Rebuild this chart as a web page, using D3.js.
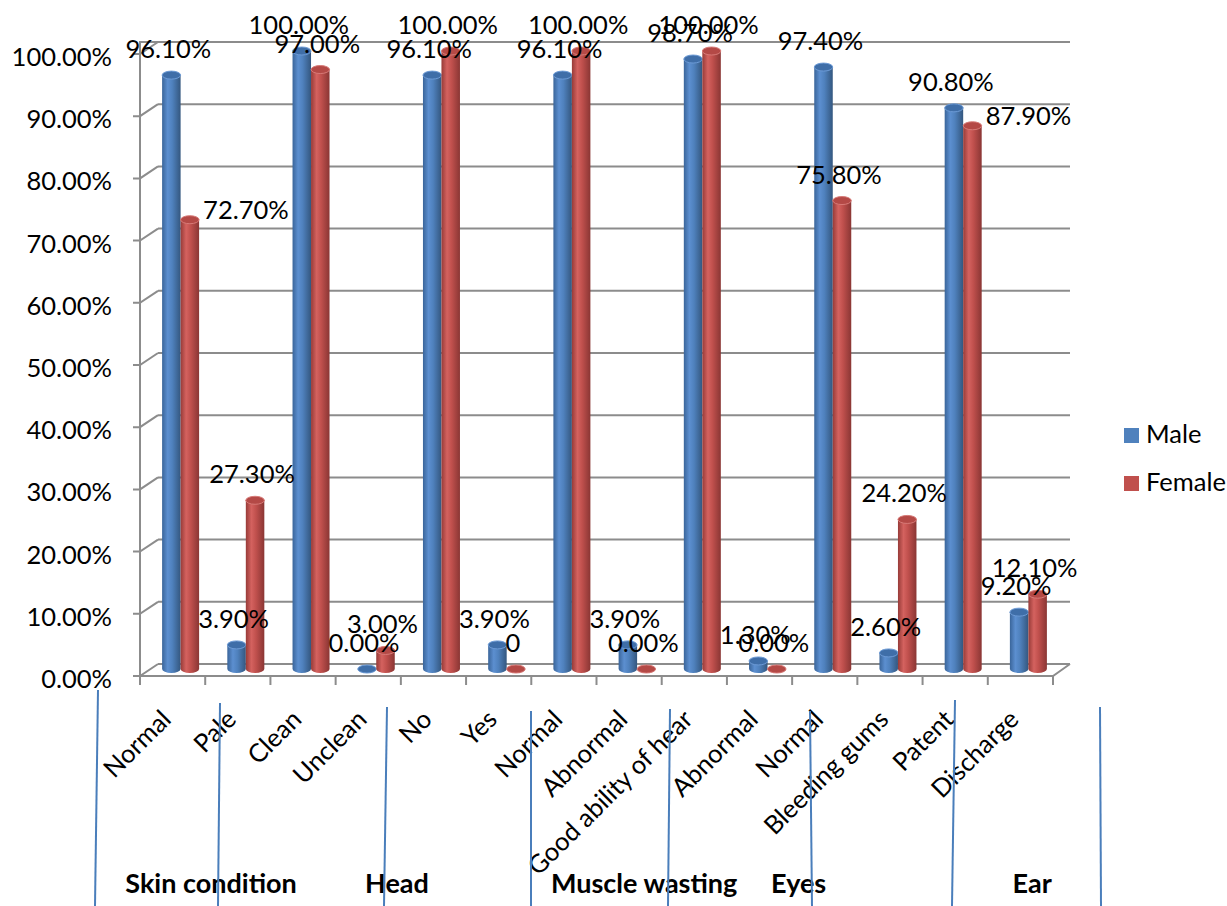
<!DOCTYPE html>
<html>
<head>
<meta charset="utf-8">
<script src="https://cdn.jsdelivr.net/npm/d3@7"></script>
<style>
  body { margin: 0; background: #fff; }
  text { font-family: Lato, "Open Sans", sans-serif; fill: #000; }
</style>
</head>
<body>
<div id="chart"></div>
<script>
// categories and values
var categories = ["Normal", "Pale", "Clean", "Unclean", "No", "Yes", "Normal", "Abnormal",
    "Good ability of hear", "Abnormal", "Normal", "Bleeding gums", "Patent", "Discharge"];
var male = [96.1, 3.9, 100, 0, 96.1, 3.9, 96.1, 3.9, 98.7, 1.3, 97.4, 2.6, 90.8, 9.2];
var female = [72.7, 27.3, 97.0, 3.0, 100, 0, 100, 0, 100, 0, 75.8, 24.2, 87.9, 12.1];
var maleLabels = ["96.10%", "3.90%", "100.00%", "0.00%", "96.10%", "3.90%", "96.10%", "3.90%",
    "98.70%", "1.30%", "97.40%", "2.60%", "90.80%", "9.20%"];
var femaleLabels = ["72.70%", "27.30%", "97.00%", "3.00%", "100.00%", "0", "100.00%", "0.00%",
    "100.00%", "0.00%", "75.80%", "24.20%", "87.90%", "12.10%"];
var seriesNames = ["Male", "Female"];
var groupNames = ["Skin condition", "Head", "Muscle wasting", "Eyes", "Ear"];
var yTicks = [0, 0.1, 0.2, 0.3, 0.4, 0.5, 0.6, 0.7, 0.8, 0.9, 1.0];

var width = 1227, height = 906;
var fontSize = "25.5px";

var svg = d3.select("#chart")
    .append("svg")
    .attr("width", width)
    .attr("height", height);

var defs = svg.append("defs");
function cylGradient(id, stops) {
    var lg = defs.append("linearGradient").attr("id", id)
        .attr("x1", "0%").attr("x2", "100%").attr("y1", "0%").attr("y2", "0%");
    stops.forEach(function (s) {
        lg.append("stop").attr("offset", s[0]).attr("stop-color", s[1]);
    });
}
cylGradient("gMale", [["0%", "#3a659a"], ["30%", "#5c8fd0"], ["55%", "#4f81bd"], ["100%", "#34577f"]]);
cylGradient("gFemale", [["0%", "#973b38"], ["30%", "#d4625f"], ["55%", "#c0504d"], ["100%", "#8a3634"]]);

var idx = d3.range(categories.length);

// front plane (axis), bar plane (middle depth), back wall
var xFront = d3.scaleBand().domain(idx).range([140, 1053]);
var xBar = d3.scaleBand().domain(idx).range([148, 1061]);
var yFront = d3.scaleLinear().domain([0, 1]).range([676, 54]);
var yBack = d3.scaleLinear().domain([0, 1]).range([664, 42]);
var yBar = d3.scaleLinear().domain([0, 100]).range([669, 51]);

var gridColor = "#8c8c8c";

// walls and gridlines
var grid = svg.append("g").attr("stroke", gridColor).attr("stroke-width", 2).attr("fill", "none");
grid.selectAll("line.back")
    .data(yTicks)
    .enter()
    .append("line")
    .attr("x1", function (d) { return d === 1 ? 140 : 158; })
    .attr("x2", 1070)
    .attr("y1", function (d) { return yBack(d); })
    .attr("y2", function (d) { return yBack(d); });
grid.selectAll("path.side")
    .data(yTicks)
    .enter()
    .append("path")
    .attr("d", function (d) {
        return "M133," + yFront(d) + "L140," + yFront(d) + "L158," + yBack(d);
    });
grid.append("line")
    .attr("x1", 140).attr("x2", 140)
    .attr("y1", yBack(1) - 1).attr("y2", yFront(0));
// floor
grid.append("path")
    .attr("d", "M133," + yFront(0) + "L1053," + yFront(0) + "L1070," + yBack(0));
grid.selectAll("line.tick")
    .data(d3.range(categories.length + 1))
    .enter()
    .append("line")
    .attr("x1", function (d) { return 140 + d * xFront.step(); })
    .attr("x2", function (d) { return 140 + d * xFront.step(); })
    .attr("y1", yFront(0))
    .attr("y2", yFront(0) + 9);

// y axis labels
svg.append("g")
    .selectAll("text")
    .data(yTicks)
    .enter()
    .append("text")
    .attr("x", 112)
    .attr("y", function (d) { return yFront(d) + 3; })
    .attr("dy", "0.35em")
    .attr("text-anchor", "end")
    .style("font-size", fontSize)
    .text(function (d) { return d3.format(".2%")(d); });

// bars
var bw = 18.5, ry = 4;
var rows = [];
idx.forEach(function (i) {
    rows.push({ i: i, s: 0, v: male[i], label: maleLabels[i] });
    rows.push({ i: i, s: 1, v: female[i], label: femaleLabels[i] });
});
function barCx(d) {
    return xBar(d.i) + xBar.bandwidth() / 2 + (d.s === 0 ? -bw / 2 : bw / 2);
}

var bars = svg.append("g")
    .selectAll("g")
    .data(rows)
    .enter()
    .append("g");

bars.append("path")
    .attr("d", function (d) {
        var cx = barCx(d), rx = bw / 2, yt = yBar(d.v), yb = yBar(0);
        return "M" + (cx - rx) + "," + yt + "L" + (cx - rx) + "," + yb +
            "A" + rx + "," + ry + " 0 0 0 " + (cx + rx) + "," + yb +
            "L" + (cx + rx) + "," + yt + "Z";
    })
    .attr("fill", function (d) { return d.s === 0 ? "url(#gMale)" : "url(#gFemale)"; });

bars.append("ellipse")
    .attr("cx", barCx)
    .attr("cy", function (d) { return yBar(d.v); })
    .attr("rx", bw / 2)
    .attr("ry", ry)
    .attr("fill", function (d) { return d.s === 0 ? "#3f6ea8" : "#b44946"; })
    .attr("stroke", function (d) { return d.s === 0 ? "#6d9bd6" : "#d77a77"; })
    .attr("stroke-width", 1);

// data labels, drawn above all bars (two female labels sit to the right of their bars)
var sideLabel = { "1-0": true, "1-12": true };
svg.append("g")
    .selectAll("text")
    .data(rows)
    .enter()
    .append("text")
    .style("font-size", fontSize)
    .attr("text-anchor", function (d) { return sideLabel[d.s + "-" + d.i] ? "start" : "middle"; })
    .attr("x", function (d) {
        return sideLabel[d.s + "-" + d.i] ? barCx(d) + bw / 2 + 4 : barCx(d) - 3;
    })
    .attr("y", function (d) {
        return sideLabel[d.s + "-" + d.i] ? yBar(d.v) - 1 : yBar(d.v) - 17;
    })
    .text(function (d) { return d.label; });

// category labels
svg.append("g")
    .selectAll("text")
    .data(idx)
    .enter()
    .append("text")
    .attr("text-anchor", "end")
    .style("font-size", fontSize)
    .attr("transform", function (d) {
        return "translate(" + (xFront(d) + xFront.bandwidth() / 2) + ",721) rotate(-45)";
    })
    .text(function (d) { return categories[d]; });

// group captions and hand-drawn separators under the axis
var groupAt = [1.09, 3.94, 7.73, 10.1, 13.68];
svg.append("g")
    .selectAll("text")
    .data(groupNames)
    .enter()
    .append("text")
    .attr("x", function (d, i) { return 140 + groupAt[i] * xFront.step(); })
    .attr("y", 893)
    .attr("text-anchor", "middle")
    .style("font-size", "27px")
    .style("font-weight", "bold")
    .text(function (d) { return d; });

var separators = [[98, 690, 95], [220, 703, 218], [387, 707, 384], [531, 711, 531],
    [670, 709, 668], [810, 711, 812], [955, 700, 952], [1100, 707, 1101]];
svg.append("g")
    .selectAll("line")
    .data(separators)
    .enter()
    .append("line")
    .attr("x1", function (d) { return d[0]; })
    .attr("y1", function (d) { return d[1]; })
    .attr("x2", function (d) { return d[2]; })
    .attr("y2", height)
    .attr("stroke", "#4a7ebb")
    .attr("stroke-width", 2);

// legend
var legend = svg.append("g")
    .selectAll("g")
    .data(seriesNames)
    .enter()
    .append("g")
    .attr("transform", function (d, i) { return "translate(1124," + (428 + i * 48) + ")"; });
legend.append("rect")
    .attr("width", 15).attr("height", 15)
    .attr("fill", function (d, i) { return i === 0 ? "#4f81bd" : "#c0504d"; });
legend.append("text")
    .attr("x", 22)
    .attr("y", 15)
    .style("font-size", fontSize)
    .text(function (d) { return d; });
</script>
</body>
</html>
